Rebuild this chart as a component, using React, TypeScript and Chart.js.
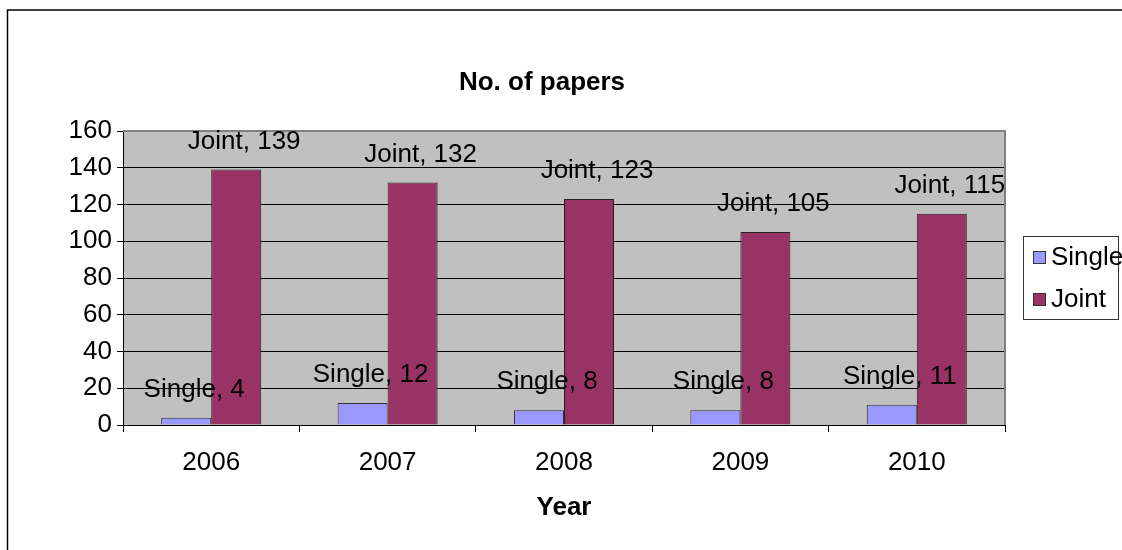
import React, { useEffect, useRef } from "react";
import { Chart, registerables } from "chart.js";

Chart.register(...registerables);

const years = ["2006", "2007", "2008", "2009", "2010"];
const singleValues = [4, 12, 8, 8, 11];
const jointValues = [139, 132, 123, 105, 115];
const seriesNames = ["Single", "Joint"];
const seriesColors = ["#9999FF", "#993366"];
const chartTitle = "No. of papers";
const xTitle = "Year";

const FONT = "'Liberation Sans', Arial, Helvetica, sans-serif";

const decorPlugin = {
  id: "decor",
  beforeDraw(chart: any) {
    const { ctx, chartArea } = chart;
    ctx.save();
    ctx.fillStyle = "#FFFFFF";
    ctx.fillRect(0, 0, chart.width, chart.height);
    ctx.fillStyle = "#C0C0C0";
    ctx.fillRect(chartArea.left, chartArea.top, chartArea.right - chartArea.left, chartArea.bottom - chartArea.top);
    ctx.restore();
  },
  afterDraw(chart: any) {
    const { ctx, chartArea } = chart;
    ctx.save();
    // plot area top & right border
    ctx.strokeStyle = "#808080";
    ctx.lineWidth = 2;
    ctx.beginPath();
    ctx.moveTo(chartArea.left, chartArea.top);
    ctx.lineTo(chartArea.right, chartArea.top);
    ctx.lineTo(chartArea.right, chartArea.bottom);
    ctx.stroke();
    // data labels
    ctx.font = `26px ${FONT}`;
    ctx.fillStyle = "#000";
    ctx.textAlign = "center";
    ctx.textBaseline = "middle";
    chart.data.datasets.forEach((ds: any, i: number) => {
      const meta = chart.getDatasetMeta(i);
      meta.data.forEach((el: any, j: number) => {
        ctx.fillText(`${ds.label}, ${ds.data[j]}`, el.x + 8, el.y - 28);
      });
    });
    // outer chart border
    ctx.strokeStyle = "#000";
    ctx.lineWidth = 1.5;
    ctx.beginPath();
    ctx.moveTo(7.5, chart.height + 5);
    ctx.lineTo(7.5, 10);
    ctx.lineTo(chart.width + 5, 10);
    ctx.stroke();
    // legend
    const lx = 1023, ly = 236, lw = 95, lh = 83;
    ctx.fillStyle = "#FFFFFF";
    ctx.fillRect(lx, ly, lw, lh);
    ctx.strokeStyle = "#333";
    ctx.lineWidth = 1;
    ctx.strokeRect(lx + 0.5, ly + 0.5, lw, lh);
    const rows = [258, 300];
    ctx.font = `26px ${FONT}`;
    ctx.textAlign = "left";
    ctx.textBaseline = "middle";
    seriesNames.forEach((name, i) => {
      const cy = rows[i];
      ctx.fillStyle = seriesColors[i];
      ctx.fillRect(1033, cy - 7, 13, 13);
      ctx.strokeStyle = "#333";
      ctx.strokeRect(1033.5, cy - 6.5, 12, 12);
      ctx.fillStyle = "#000";
      ctx.fillText(name, 1051, cy);
    });
    ctx.restore();
  },
};

export default function App() {
  const ref = useRef<HTMLCanvasElement>(null);
  useEffect(() => {
    if (!ref.current) return;
    const chart = new Chart(ref.current, {
      type: "bar",
      data: {
        labels: years,
        datasets: [
          {
            label: seriesNames[0],
            data: singleValues,
            backgroundColor: seriesColors[0],
            borderColor: "#333",
            borderWidth: 1,
            categoryPercentage: 0.567,
            barPercentage: 1,
          },
          {
            label: seriesNames[1],
            data: jointValues,
            backgroundColor: seriesColors[1],
            borderColor: "#222",
            borderWidth: 1,
            categoryPercentage: 0.567,
            barPercentage: 1,
          },
        ],
      },
      options: {
        responsive: false,
        animation: false,
        devicePixelRatio: 1,
        layout: { padding: { left: 0, right: 38, top: 0, bottom: 0 } },
        plugins: {
          legend: { display: false },
          tooltip: { enabled: false },
          title: {
            display: true,
            text: chartTitle,
            color: "#000",
            font: { family: FONT, size: 26, weight: "bold", lineHeight: 1.2 },
            padding: { top: 67.4, bottom: 32.4 },
          },
        },
        scales: {
          x: {
            afterFit(scale: any) {
              scale.height = 125;
            },
            grid: {
              display: true,
              drawOnChartArea: false,
              drawTicks: true,
              tickLength: 7,
              offset: true,
              color: "#000",
              tickColor: "#000",
            },
            border: { display: true, color: "#000", width: 1 },
            ticks: {
              color: "#000",
              font: { family: FONT, size: 26, lineHeight: 1.2 },
              padding: 15.4,
              maxRotation: 0,
            },
            title: {
              display: true,
              text: xTitle,
              color: "#000",
              font: { family: FONT, size: 26, weight: "bold", lineHeight: 1.2 },
              padding: { top: 0, bottom: 26.4 },
            },
          },
          y: {
            min: 0,
            max: 160,
            afterFit(scale: any) {
              scale.width = 123;
            },
            ticks: {
              stepSize: 20,
              color: "#000",
              font: { family: FONT, size: 26, lineHeight: 1.2 },
              padding: 5,
            },
            grid: {
              color: "#000",
              lineWidth: 1,
              drawTicks: true,
              tickLength: 6,
              tickColor: "#000",
            },
            border: { display: true, color: "#000", width: 1 },
          },
          spacer: {
            type: "linear",
            position: "right",
            display: true,
            afterFit(scale: any) {
              scale.width = 79;
            },
            grid: { display: false, drawTicks: false },
            border: { display: false },
            ticks: { display: false },
          },
        },
      },
      plugins: [decorPlugin],
    });
    return () => chart.destroy();
  }, []);
  return (
    <div style={{ position: "absolute", left: 0, top: 0, width: 1122, height: 550, background: "#fff" }}>
      <canvas ref={ref} width={1122} height={550} style={{ width: 1122, height: 550, display: "block" }} />
    </div>
  );
}
